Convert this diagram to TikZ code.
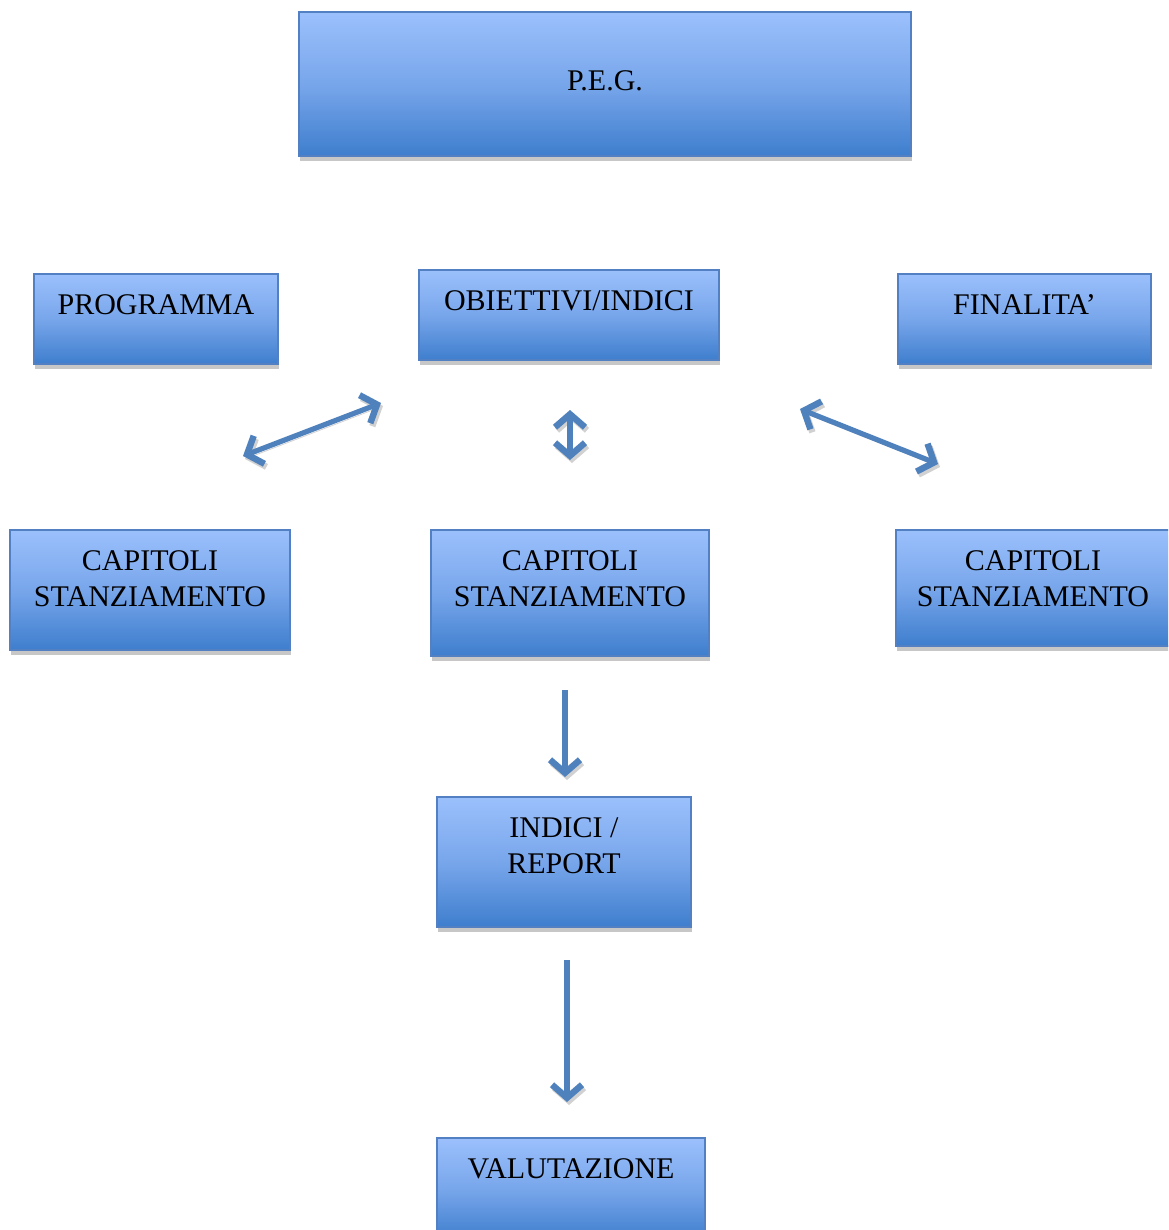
\documentclass[tikz,border=0pt]{standalone}
\usepackage{fontspec}
\setmainfont{Liberation Serif}
\usetikzlibrary{arrows.meta,shadows}
\definecolor{boxtop}{RGB}{155,192,252}
\definecolor{boxmid}{RGB}{120,166,235}
\definecolor{boxbot}{RGB}{62,126,205}
\definecolor{boxline}{RGB}{82,128,195}
\definecolor{arrblue}{RGB}{79,129,189}
\tikzset{
  box/.style={draw=boxline,line width=.8pt,top color=boxtop,bottom color=boxbot,middle color=boxmid,inner sep=0pt,
    drop shadow={shadow xshift=.5pt,shadow yshift=-2.5pt,fill=black!22,opacity=1}},
  lbl/.style={anchor=north,font=\fontsize{15}{18}\selectfont,align=center,inner sep=0pt},
  link/.style={draw=arrblue,line width=2.6pt,>={Straight Barb[length=6.5pt,width=15pt,line width=3.2pt]},
    preaction={draw=black!18,transform canvas={shift={(1pt,-1.5pt)}}}}
}
\begin{document}
\begin{tikzpicture}[x=.5pt,y=-.5pt]
\clip (0,0) rectangle (1168,1230);
% boxes
\node (peg) [box,minimum width=306pt,minimum height=72pt,label={[lbl,yshift=-29.5pt]north:P.E.G.}] at (605,84) {};
\node (prog) [box,minimum width=122pt,minimum height=45pt,label={[lbl,yshift=-10.5pt]north:PROGRAMMA}] at (156,319) {};
\node (obj) [box,minimum width=150pt,minimum height=45pt,label={[lbl,yshift=-10.5pt]north:OBIETTIVI/INDICI}] at (569,315) {};
\node (fin) [box,minimum width=126.5pt,minimum height=45pt,label={[lbl,yshift=-10.5pt]north:FINALITA’}] at (1024.5,319) {};
\node (capl) [box,minimum width=140pt,minimum height=60pt,label={[lbl,yshift=-10.5pt]north:CAPITOLI\\STANZIAMENTO}] at (150,590) {};
\node (capm) [box,minimum width=139pt,minimum height=63pt,label={[lbl,yshift=-10.5pt]north:CAPITOLI\\STANZIAMENTO}] at (570,593) {};
\node (capr) [box,minimum width=137pt,minimum height=58pt,label={[lbl,yshift=-10.5pt]north:CAPITOLI\\STANZIAMENTO}] at (1033,588) {};
\node (ind) [box,minimum width=127pt,minimum height=65pt,label={[lbl,yshift=-10.5pt]north:INDICI /\\REPORT}] at (564,862) {};
\node (val) [box,minimum width=134pt,minimum height=51pt,label={[lbl,yshift=-10.5pt]north:VALUTAZIONE}] at (571,1189) {};
% arrow ends
\coordinate (l1) at (243,456); \coordinate (l2) at (381,403);
\coordinate (m1) at (570,410); \coordinate (m2) at (570,460);
\coordinate (r1) at (800,409); \coordinate (r2) at (938,464);
\coordinate (d1) at (565,690); \coordinate (d2) at (565,777);
\coordinate (e1) at (567,960); \coordinate (e2) at (567,1102);
\foreach \a/\b in {l1/l2,m1/m2,r1/r2}{\draw[link,<->] (\a) -- (\b);}
\foreach \a/\b in {d1/d2,e1/e2}{\draw[link,->] (\a) -- (\b);}
\end{tikzpicture}
\end{document}
